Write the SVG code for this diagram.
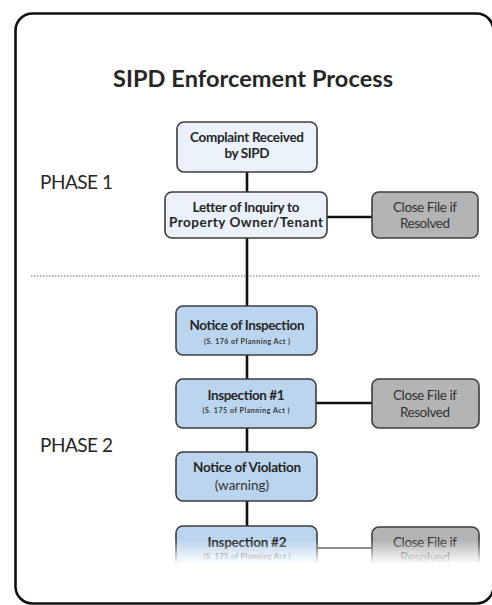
<svg xmlns="http://www.w3.org/2000/svg" width="492" height="605" viewBox="0 0 492 605">
<defs>
<linearGradient id="fade" x1="0" y1="0" x2="0" y2="1">
<stop offset="0" stop-color="#fff" stop-opacity="0"/>
<stop offset="1" stop-color="#fff" stop-opacity="1"/>
</linearGradient>
</defs>
<style>
.t{font-family:Lato,"Liberation Sans",sans-serif;fill:#262626;text-anchor:middle}
.b{font-weight:bold;font-size:13.5px}
.s{font-weight:bold;font-size:7px;fill:#333}
.r{font-size:13.5px;fill:#333}
.ph{font-family:Lato,"Liberation Sans",sans-serif;font-size:19px;fill:#262626}
.pale{fill:#eaf1fa;stroke:#3c3c3c;stroke-width:1.6}
.blue{fill:#bcd5ee;stroke:#3c3c3c;stroke-width:1.6}
.gray{fill:#b4b4b4;stroke:#3c3c3c;stroke-width:1.6}
.c{stroke:#111;stroke-width:2.6;fill:none}
</style>
<rect x="0" y="0" width="492" height="605" fill="#fff"/>
<text class="t" x="253" y="86.5" font-size="23.5" font-weight="bold" textLength="280">SIPD Enforcement Process</text>
<text class="ph" x="40" y="188.5" textLength="73">PHASE 1</text>
<text class="ph" x="40" y="452" textLength="73">PHASE 2</text>
<line x1="31" y1="276" x2="480" y2="276" stroke="#9a9a9a" stroke-width="1.5" stroke-dasharray="1.5 1.5"/>
<g id="connectors">
<line class="c" x1="247" y1="171" x2="247" y2="193"/>
<line class="c" x1="247" y1="237" x2="247" y2="307"/>
<line class="c" x1="247" y1="354" x2="247" y2="380"/>
<line class="c" x1="247" y1="427" x2="247" y2="453"/>
<line class="c" x1="247" y1="500" x2="247" y2="527"/>
<line class="c" x1="327" y1="217" x2="372" y2="217"/>
<line class="c" x1="316" y1="403" x2="372" y2="403"/>
<line x1="317" y1="548" x2="372" y2="548" stroke="#555" stroke-width="2"/>
</g>
<g id="n1"><rect class="pale" x="177" y="122" width="140" height="50" rx="7"/>
<text class="t b" x="247" y="142" textLength="114">Complaint Received</text>
<text class="t b" x="247" y="158" textLength="45">by SIPD</text></g>
<g id="n2"><rect class="pale" x="165" y="192" width="162" height="46" rx="7"/>
<text class="t b" x="246" y="212" textLength="107">Letter of Inquiry to</text>
<text class="t b" x="246" y="227" textLength="154">Property Owner/Tenant</text></g>
<g id="c1"><rect class="gray" x="372" y="192" width="106" height="46" rx="7"/>
<text class="t r" x="425" y="212" textLength="64">Close File if</text>
<text class="t r" x="425" y="228" textLength="50">Resolved</text></g>
<g id="n3"><rect class="blue" x="176" y="306" width="141" height="49" rx="7"/>
<text class="t b" x="247" y="329.5" textLength="115">Notice of Inspection</text>
<text class="t s" x="247" y="343.5" textLength="86">(S. 176 of Planning Act )</text></g>
<g id="n4"><rect class="blue" x="176" y="379" width="140" height="49" rx="7"/>
<text class="t b" x="246" y="399.5" textLength="77">Inspection #1</text>
<text class="t s" x="246" y="412.7" textLength="87">(S. 175 of Planning Act )</text></g>
<g id="c2"><rect class="gray" x="372" y="379" width="107" height="49" rx="7"/>
<text class="t r" x="425" y="399.5" textLength="64">Close File if</text>
<text class="t r" x="425" y="417" textLength="50">Resolved</text></g>
<g id="n5"><rect class="blue" x="176" y="452" width="141" height="49" rx="7"/>
<text class="t b" x="247" y="472" textLength="108">Notice of Violation</text>
<text class="t r" x="242" y="490" font-size="15.5">(warning)</text></g>
<g id="n6"><rect class="blue" x="176" y="526" width="141" height="49" rx="7"/>
<text class="t b" x="247" y="547" textLength="79">Inspection #2</text>
<text class="t s" x="247" y="558.5" textLength="87">(S. 175 of Planning Act )</text></g>
<g id="c3"><rect class="gray" x="372" y="527" width="107" height="48" rx="7"/>
<text class="t r" x="425" y="547" textLength="64">Close File if</text>
<text class="t r" x="425" y="562" textLength="50">Resolved</text></g>
<rect x="17" y="540" width="475" height="24" fill="url(#fade)"/>
<rect x="17" y="563" width="475" height="42" fill="#fff"/>
<rect x="15.5" y="13.5" width="478" height="590" rx="17" fill="none" stroke="#111" stroke-width="2.6"/>
</svg>
